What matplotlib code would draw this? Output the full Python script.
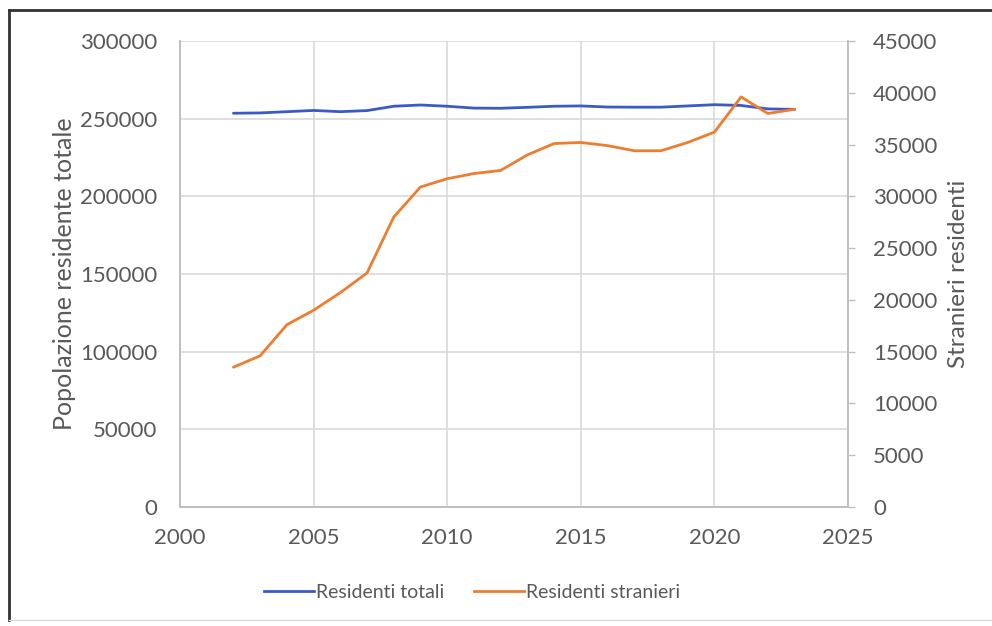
import matplotlib
matplotlib.use("Agg")
import matplotlib.pyplot as plt
from matplotlib.lines import Line2D

# ── Data ──────────────────────────────────────────────────────────────────────
years = [2002, 2003, 2004, 2005, 2006, 2007, 2008, 2009, 2010, 2011, 2012,
         2013, 2014, 2015, 2016, 2017, 2018, 2019, 2020, 2021, 2022, 2023]
residenti_totali = [253500, 253700, 254500, 255300, 254500, 255200, 258000,
                    258800, 258000, 256800, 256700, 257300, 258000, 258200,
                    257500, 257400, 257400, 258200, 259000, 258500, 256300,
                    256000]
residenti_stranieri = [13500, 14600, 17600, 19000, 20700, 22600, 28000, 30900,
                       31700, 32200, 32500, 34000, 35100, 35200, 34900, 34400,
                       34400, 35200, 36200, 39600, 38000, 38400]

left_ticks = [0, 50000, 100000, 150000, 200000, 250000, 300000]
right_ticks = [0, 5000, 10000, 15000, 20000, 25000, 30000, 35000, 40000, 45000]
x_ticks = [2000, 2005, 2010, 2015, 2020, 2025]

BLUE = "#3a5bc7"
ORANGE = "#ed7d31"
GRID = "#d9d9d9"
TEXT = "#595959"

plt.rcParams["font.family"] = ["Lato", "DejaVu Sans"]

fig = plt.figure(figsize=(9.92, 6.26), dpi=100)
ax = fig.add_axes([180 / 992, 119 / 626, 668 / 992, 466 / 626])
ax2 = ax.twinx()

ax.plot(years, residenti_totali, color=BLUE, lw=2.0, solid_capstyle="round")
ax2.plot(years, residenti_stranieri, color=ORANGE, lw=2.0, solid_capstyle="round")

ax.set_xlim(2000, 2025)
ax.set_ylim(0, 300000)
ax2.set_ylim(0, 45000)
ax.set_xticks(x_ticks)
ax.set_yticks(left_ticks)
ax2.set_yticks(right_ticks)

ax.grid(True, color=GRID, lw=1.2)
ax.set_axisbelow(True)

for a in (ax, ax2):
    a.spines["top"].set_visible(False)
    for side in ("left", "bottom", "right"):
        a.spines[side].set_color("#bfbfbf")
        a.spines[side].set_linewidth(1.2)

ax.tick_params(axis="both", length=0, labelsize=16, labelcolor=TEXT)
ax.tick_params(axis="y", pad=16.5)
ax.tick_params(axis="x", pad=15)
ax2.tick_params(axis="y", length=5, width=1.0, color="#bfbfbf",
                labelsize=16, labelcolor=TEXT, pad=13)

ax.set_ylabel("Popolazione residente totale", fontsize=18, color=TEXT,
              labelpad=3)
ax2.set_ylabel("Stranieri residenti", fontsize=17.5, color=TEXT, labelpad=8)

handles = [Line2D([], [], color=BLUE, lw=2.0),
           Line2D([], [], color=ORANGE, lw=2.0)]
fig.legend(handles, ["Residenti totali", "Residenti stranieri"],
           loc="center", bbox_to_anchor=(472 / 992, 1 - 592 / 626), ncol=2,
           frameon=False, fontsize=14, labelcolor=TEXT, handlelength=2.6,
           handletextpad=0.1, columnspacing=1.5)

# outer frame of the screenshot
fig.add_artist(Line2D([9 / 992, 9 / 992], [1 - 10 / 626, 1 - 620 / 626],
                      transform=fig.transFigure, color="#333333", lw=2))
fig.add_artist(Line2D([9 / 992, 1.0], [1 - 10 / 626, 1 - 10 / 626],
                      transform=fig.transFigure, color="#333333", lw=2))
fig.add_artist(Line2D([9 / 992, 1.0], [1 - 620 / 626, 1 - 620 / 626],
                      transform=fig.transFigure, color="#dddddd", lw=1))

fig.savefig("out.png", dpi=100)
